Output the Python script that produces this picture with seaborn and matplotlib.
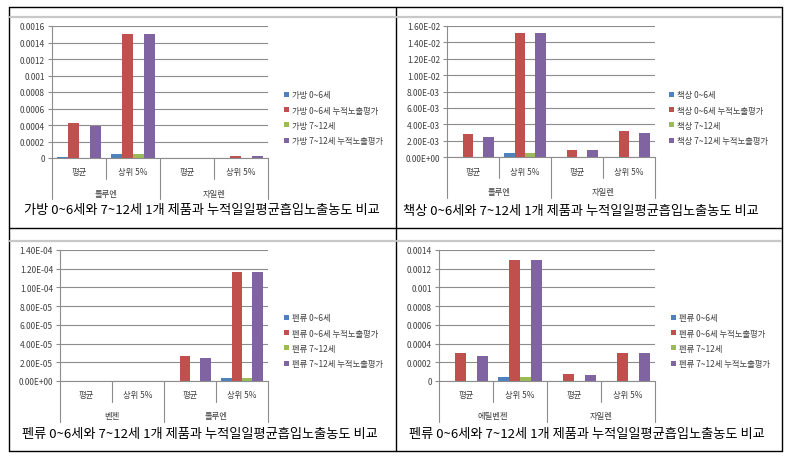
import numpy as np
import pandas as pd
import matplotlib
matplotlib.use('Agg')
import matplotlib.pyplot as plt
import seaborn as sns
from matplotlib.lines import Line2D
from matplotlib.ticker import FuncFormatter, MultipleLocator
import matplotlib.transforms as mtransforms

# ---------------- data ----------------
stats = ['평균', '상위 5%']
suffixes = ['0~6세', '0~6세 누적노출평가', '7~12세', '7~12세 누적노출평가']

bag_groups = ['톨루엔', '자일렌']
bag_0_6 = [0.000012, 0.000045, 0.000002, 0.000002]
bag_0_6_cum = [0.00043, 0.0015, 0.000004, 0.000025]
bag_7_12 = [0.000005, 0.000045, 0.000001, 0.000002]
bag_7_12_cum = [0.00039, 0.0015, 0.000003, 0.000025]

desk_groups = ['톨루엔', '자일렌']
desk_0_6 = [0.00005, 0.00045, 0.00003, 0.00005]
desk_0_6_cum = [0.0028, 0.0152, 0.0009, 0.0032]
desk_7_12 = [0.00003, 0.00045, 0.00002, 0.00003]
desk_7_12_cum = [0.0025, 0.0152, 0.00085, 0.00295]

pen1_groups = ['벤젠', '톨루엔']
pen1_0_6 = [0.00000001, 0.00000005, 0.0000005, 0.0000035]
pen1_0_6_cum = [0.0000003, 0.0000004, 0.000027, 0.000117]
pen1_7_12 = [0.00000001, 0.00000004, 0.0000003, 0.0000035]
pen1_7_12_cum = [0.00000025, 0.00000035, 0.000025, 0.000117]

pen2_groups = ['에틸벤젠', '자일렌']
pen2_0_6 = [0.000005, 0.00004, 0.000003, 0.000003]
pen2_0_6_cum = [0.0003, 0.00129, 0.00007, 0.0003]
pen2_7_12 = [0.000003, 0.00004, 0.000002, 0.000003]
pen2_7_12_cum = [0.00027, 0.00129, 0.00006, 0.0003]

titles = ['가방 0~6세와 7~12세 1개 제품과 누적일일평균흡입노출농도 비교',
          '책상 0~6세와 7~12세 1개 제품과 누적일일평균흡입노출농도 비교',
          '펜류 0~6세와 7~12세 1개 제품과 누적일일평균흡입노출농도 비교',
          '펜류 0~6세와 7~12세 1개 제품과 누적일일평균흡입노출농도 비교']
products = ['가방', '책상', '펜류', '펜류']

colors = ['#4F81BD', '#C0504D', '#9BBB59', '#8064A2']

# ---------------- figure ----------------
sns.set_theme(style='white')
plt.rcParams['font.family'] = ['Noto Sans CJK KR', 'DejaVu Sans']

W, H = 798, 460
fig = plt.figure(figsize=(W / 100, H / 100), dpi=100)
fig.patch.set_facecolor('white')


def fx(x):
    return x / W


def fy(y):
    return 1 - y / H


# table lines
def fline(x0, y0, x1, y1, color='black', lw=1.0):
    fig.add_artist(Line2D([fx(x0), fx(x1)], [fy(y0), fy(y1)], color=color, lw=lw,
                          transform=fig.transFigure))

fline(9, 8, 782, 8)
fline(9, 452, 782, 452)
fline(9, 8, 9, 452)
fline(782, 8, 782, 452)
fline(396, 8, 396, 452)
fline(9, 229, 782, 229)
for yy in (18, 242):
    fline(10, yy, 395, yy, color='#c8c8c8', lw=1.6)
    fline(397, yy, 781, yy, color='#c8c8c8', lw=1.6)


def gen_fmt(v, pos):
    if abs(v) < 1e-12:
        return '0'
    return f"{v:.4f}".rstrip('0').rstrip('.')


def sci_fmt(v, pos):
    return f"{v:.2E}"


panels = [
    dict(groups=bag_groups, vals=[bag_0_6, bag_0_6_cum, bag_7_12, bag_7_12_cum],
         box=(52, 27, 268, 159), top=0.0016, step=0.0002, fmt=gen_fmt,
         legend=(281, 88), title=(202, 211)),
    dict(groups=desk_groups, vals=[desk_0_6, desk_0_6_cum, desk_7_12, desk_7_12_cum],
         box=(447, 27, 655, 158), top=0.016, step=0.002, fmt=sci_fmt,
         legend=(666, 88), title=(581, 212)),
    dict(groups=pen1_groups, vals=[pen1_0_6, pen1_0_6_cum, pen1_7_12, pen1_7_12_cum],
         box=(60, 251, 268, 382), top=0.00014, step=0.00002, fmt=sci_fmt,
         legend=(281, 311), title=(200, 435)),
    dict(groups=pen2_groups, vals=[pen2_0_6, pen2_0_6_cum, pen2_7_12, pen2_7_12_cum],
         box=(439, 251, 655, 382), top=0.0014, step=0.0002, fmt=gen_fmt,
         legend=(668, 311), title=(587, 435)),
]

for i, p in enumerate(panels):
    x0, y0, x1, y1 = p['box']
    ax = fig.add_axes([fx(x0), fy(y1), (x1 - x0) / W, (y1 - y0) / H])
    cats = [f"{g}|{s}" for g in p['groups'] for s in stats]
    series_names = [f"{products[i]} {s}" for s in suffixes]
    rows = []
    for sn, vals in zip(series_names, p['vals']):
        for c, v in zip(cats, vals):
            rows.append(dict(cat=c, series=sn, value=v))
    df = pd.DataFrame(rows)
    sns.barplot(data=df, x='cat', y='value', hue='series', order=cats,
                hue_order=series_names, palette=colors, saturation=1,
                width=0.8, linewidth=0, ax=ax, errorbar=None)
    handles, labels = ax.get_legend_handles_labels()
    if ax.get_legend() is not None:
        ax.get_legend().remove()
    ax.set_xlim(-0.5, 3.5)
    ax.set_ylim(0, p['top'])
    ax.yaxis.set_major_locator(MultipleLocator(p['step']))
    ax.yaxis.set_major_formatter(FuncFormatter(p['fmt']))
    ax.set_xlabel('')
    ax.set_ylabel('')
    ax.set_xticks([])
    ax.yaxis.grid(True, color='#8c8c8c', lw=0.8)
    ax.set_axisbelow(True)
    for s in ('top', 'right'):
        ax.spines[s].set_visible(False)
    for s in ('left', 'bottom'):
        ax.spines[s].set_color('#8c8c8c')
        ax.spines[s].set_linewidth(0.8)
    ax.tick_params(axis='y', left=True, length=3, width=0.8, color='#8c8c8c',
                   labelsize=6, labelcolor='#404040', pad=2)
    ax.set_facecolor('white')

    hpx = y1 - y0
    trans = mtransforms.blended_transform_factory(ax.transData, ax.transAxes)
    # category separators
    for xb, depth in zip([-0.5, 0.5, 1.5, 2.5, 3.5], [41, 21, 41, 21, 41]):
        ax.plot([xb, xb], [0, -depth / hpx], transform=trans, color='#8c8c8c',
                lw=0.8, clip_on=False)
    for k, c in enumerate(cats):
        ax.text(k, -14 / hpx, c.split('|')[1], transform=trans, ha='center',
                va='center', fontsize=6, color='#404040')
    for g_i, g in enumerate(p['groups']):
        ax.text(0.5 + 2 * g_i, -35 / hpx, g, transform=trans, ha='center',
                va='center', fontsize=6, color='#404040')

    lx, ly = p['legend']
    ax.legend(handles, labels, bbox_to_anchor=(fx(lx), fy(ly)),
              bbox_transform=fig.transFigure, loc='upper left', frameon=False,
              fontsize=6, handlelength=0.55, handleheight=0.55,
              handletextpad=0.4, labelspacing=0.75, borderaxespad=0,
              labelcolor='#404040')

    tx, ty = p['title']
    fig.text(fx(tx), fy(ty), titles[i], ha='center', va='center', fontsize=9.5,
             color='black')

fig.savefig('out.png', dpi=100, facecolor='white')
